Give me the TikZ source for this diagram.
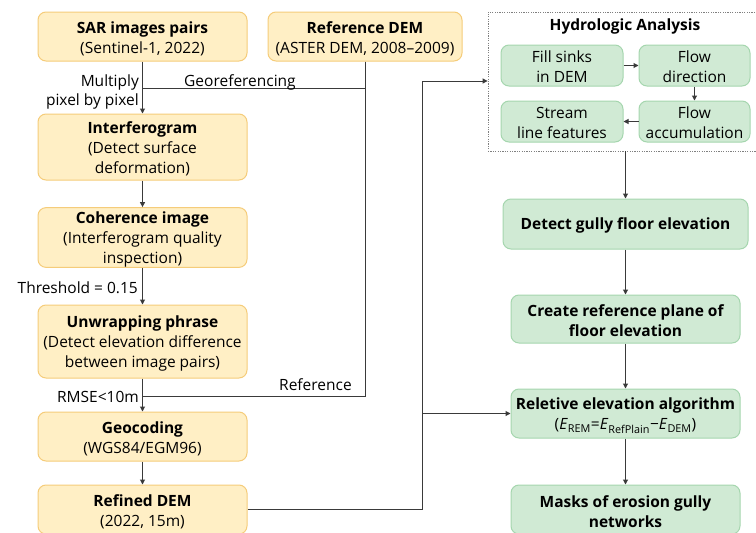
\documentclass[tikz,border=0pt]{standalone}
\usepackage{fontspec}
\setmainfont{Open Sans}
\usetikzlibrary{arrows.meta}
\definecolor{yfill}{HTML}{FFEFC5}
\definecolor{ydraw}{HTML}{F5CC7A}
\definecolor{gfill}{HTML}{D0EAD4}
\definecolor{gdraw}{HTML}{A5D6AE}
\definecolor{lin}{HTML}{3A3A3A}
\newcommand\mystr{\rule{0pt}{16pt}}
\newcommand\mystrs{\rule{0pt}{14.5pt}}
\begin{document}
\begin{tikzpicture}[x=1pt,y=-1pt,
  every node/.style={font=\fontsize{15.5}{20}\selectfont, inner sep=0pt},
  ybox/.style={draw=ydraw, fill=yfill, line width=1pt, rounded corners=8pt, align=center, minimum width=209pt},
  gbox/.style={draw=gdraw, fill=gfill, line width=1pt, rounded corners=8pt, align=center},
  hbox/.style={gbox, minimum width=122pt, minimum height=41pt},
  lbl/.style={text=black},
  con/.style={draw=lin, line width=1pt},
  arr/.style={con, -{Triangle[length=5pt,width=5pt]}}]
\useasboundingbox (0,0) rectangle (756,533);
\clip (0,0) rectangle (756,533);
% left column
\node[ybox, minimum height=49pt] (sar) at (142.5,36.5) {\mystr\textbf{SAR images pairs}\\(Sentinel-1, 2022)};
\node[ybox, minimum width=194pt, minimum height=49pt] (ref) at (365,36.5) {\mystr\textbf{Reference DEM}\\(ASTER DEM, 2008–2009)};
\node[ybox, minimum height=66pt] (intf) at (142.5,147) {\mystr\textbf{Interferogram}\\(Detect surface\\deformation)};
\node[ybox, minimum height=57pt] (coh) at (142.5,237.5) {\mystr\textbf{Coherence image}\\(Interferogram quality\\inspection)};
\node[ybox, minimum height=73pt] (unw) at (142.5,341.5) {\mystr\textbf{Unwrapping phrase}\\(Detect elevation difference\\between image pairs)};
\node[ybox, minimum height=49pt] (geo) at (142.5,436.5) {\mystr\textbf{Geocoding}\\(WGS84/EGM96)};
\node[ybox, minimum height=49pt] (refd) at (142.5,509.5) {\mystr\textbf{Refined DEM}\\(2022, 15m)};
% hydrologic analysis
\node[draw=gray, dash pattern=on 1.2pt off 1.2pt, line width=0.8pt, minimum width=280pt, minimum height=139pt] (hyd) at (628,81.5) {};
\node[font=\fontsize{15.5}{20}\selectfont\bfseries] (hydt) at (625,26) {Hydrologic Analysis};
\node[hbox] (fill) at (562,65.5) {\mystrs Fill sinks\\in DEM};
\node[hbox, minimum width=111pt] (fdir) at (694.5,65.5) {\mystrs Flow\\direction};
\node[hbox] (strm) at (562,121.5) {\mystrs Stream\\line features};
\node[hbox, minimum width=111pt] (facc) at (694.5,121.5) {\mystrs Flow\\accumulation};
% right column
\node[gbox, minimum width=245pt, minimum height=50pt, font=\fontsize{15.5}{20}\selectfont\bfseries] (gully) at (625.5,224) {\mystrs Detect gully floor elevation};
\node[gbox, minimum width=229pt, minimum height=48pt, font=\fontsize{15.5}{20}\selectfont\bfseries] (plane) at (625.5,319) {\mystr Create reference plane of\\floor elevation};
\node[gbox, minimum width=229pt, minimum height=49pt] (rel) at (625.5,413.5) {\mystr\textbf{Reletive elevation algorithm}\\(\textit{E}\textsubscript{REM}=\textit{E}\textsubscript{RefPlain}−\textit{E}\textsubscript{DEM})};
\node[gbox, minimum width=229pt, minimum height=49pt, font=\fontsize{15.5}{20}\selectfont\bfseries] (mask) at (625.5,509.5) {\mystr Masks of erosion gully\\networks};
% coordinates
\coordinate (g) at (142.5,88);
\coordinate (r) at (142.5,396);
\coordinate (k) at (422,81);
% connectors
\draw[arr] (sar) -- (intf);
\draw[con] (ref.south) |- (g);
\draw[con] (ref.south) |- (r);
\draw[arr] (intf) -- (coh);
\draw[arr] (coh) -- (unw);
\draw[arr] (unw) -- (geo);
\draw[arr] (geo) -- (refd);
\draw[arr] (refd.east) -| (k) -- (k -| hyd.west);
\draw[arr] (k |- rel.west) -- (rel.west);
\draw[arr] (fill) -- (fdir);
\draw[arr] (fdir) -- (facc);
\draw[arr] (facc) -- (strm);
\draw[arr] (hyd.south -| gully.north) -- (gully.north);
\draw[arr] (gully) -- (plane);
\draw[arr] (plane) -- (rel);
\draw[arr] (rel) -- (mask);
% labels
\node[lbl, anchor=base east, align=right, font=\fontsize{15.5}{19}\selectfont] (mul) at (139,105.5) {Multiply\\pixel by pixel};
\node[lbl, anchor=base west] (geor) at (184,86) {Georeferencing};
\node[lbl, anchor=base east] (thr) at (138,293.5) {Threshold = 0.15};
\node[lbl, anchor=base east] (rmse) at (139,402.5) {RMSE<10m};
\node[lbl, anchor=base west] (refl) at (279,390.5) {Reference};
\end{tikzpicture}
\end{document}
